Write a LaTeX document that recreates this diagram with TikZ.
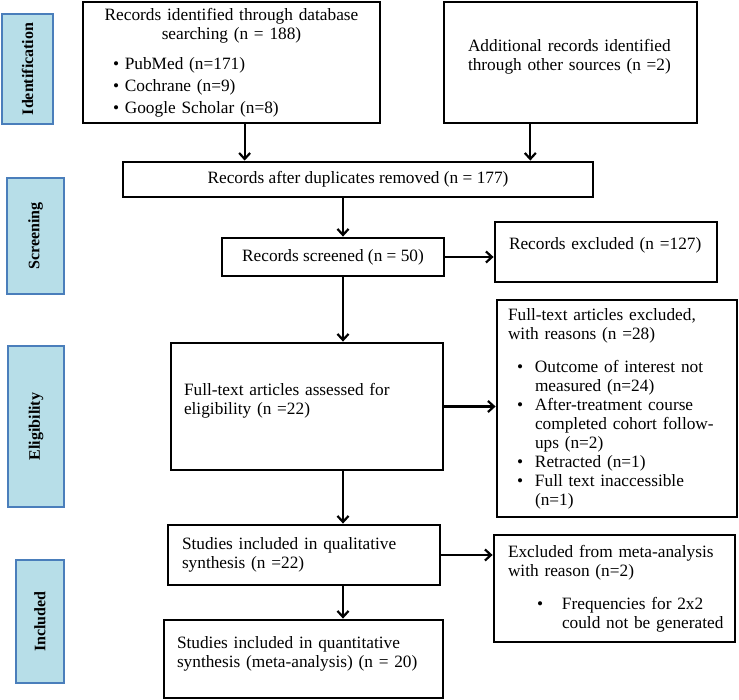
\documentclass[tikz,border=0pt]{standalone}
\usepackage{fontspec}
\setmainfont{Liberation Serif}
\usetikzlibrary{arrows.meta}

\definecolor{phasefill}{HTML}{B7DEE8}
\definecolor{phaseline}{HTML}{4A7EBB}

\newcommand{\bitem}[3]{\par\hangindent=#1\hangafter=0\noindent
  \llap{\makebox[#2][l]{\textbullet}}#3\par}
\newcommand{\pushup}[1]{\par\vspace{#1}\hrule height 0pt}

\tikzset{
  box/.style={draw, line width=2.8pt, inner sep=0pt,
    font=\fontsize{17.3}{19}\selectfont},
  phase/.style={draw=phaseline, fill=phasefill, line width=2.2pt, rotate=90,
    inner sep=0pt, font=\fontsize{16}{18}\selectfont\bfseries},
  arrow/.style={->, line width=2.2pt},
}

\begin{document}
\begin{tikzpicture}[x=1pt, y=-1pt, >={Straight Barb[length=6pt,width=11pt]}]
    \useasboundingbox (0,0) rectangle (739,700);

    \node [phase, minimum width=110pt, minimum height=51pt] (identification) at (27.5,69) {Identification};
    \node [phase, minimum width=116pt, minimum height=57pt] (screening) at (35.5,236) {Screening};
    \node [phase, minimum width=161pt, minimum height=56pt] (eligibility) at (36,426.5) {Eligibility};
    \node [phase, minimum width=123pt, minimum height=48pt] (included) at (40,621.5) {Included};

    \node [box, minimum width=297pt, minimum height=121pt, text width=277pt] (database) at (231.5,62.5)
        {{\centering Records identified through database\\ searching (n = 188)\par}
         \vspace{11pt}
         \hspace*{20pt}\textbullet\ PubMed (n=171)\par\vspace{3pt}
         \hspace*{20pt}\textbullet\ Cochrane (n=9)\par\vspace{3pt}
         \hspace*{20pt}\textbullet\ Google Scholar (n=8)};
    \node [box, minimum width=253pt, minimum height=121pt, text width=205pt, align=left] (other) at (570.5,62.5)
        {Additional records identified\\ through other sources (n =2)\pushup{11pt}};
    \node [box, minimum width=470pt, minimum height=35pt, align=center] (dedup) at (358,179.5)
        {Records after duplicates removed (n = 177)};
    \node [box, minimum width=222pt, minimum height=38pt, align=center] (screened) at (333,257)
        {Records screened (n = 50)};
    \node [box, minimum width=222pt, minimum height=60pt, text width=194pt, align=left] (excluded) at (606,252)
        {Records excluded (n =127)\pushup{14pt}};
    \node [box, minimum width=272pt, minimum height=127pt, text width=246pt, align=left] (assessed) at (307,406.5)
        {Full-text articles assessed for\\ eligibility (n =22)\pushup{12pt}};
    \node [box, minimum width=240pt, minimum height=217pt, text width=218pt, align=left] (ftexcluded) at (617,408.5)
        {Full-text articles excluded,\\ with reasons (n =28)\par\vspace{14pt}
         \bitem{27pt}{18pt}{Outcome of interest not\newline measured (n=24)}
         \bitem{27pt}{18pt}{After-treatment course\newline \mbox{completed cohort follow-}\newline ups (n=2)}
         \bitem{27pt}{18pt}{Retracted (n=1)}
         \bitem{27pt}{18pt}{Full text inaccessible\newline (n=1)}};
    \node [box, minimum width=272pt, minimum height=60pt, text width=244pt, align=left] (qualitative) at (304,555)
        {Studies included in qualitative\\ synthesis (n =22)};
    \node [box, minimum width=241pt, minimum height=107pt, text width=213pt, align=left] (metaexcl) at (614.5,588.5)
        {\mbox{Excluded from meta-analysis}\\ with reason (n=2)\par\vspace{14pt}
         \bitem{54pt}{25pt}{\mbox{Frequencies for 2x2}\newline \mbox{could not be generated}}};
    \node [box, minimum width=279pt, minimum height=78pt, text width=253pt, align=left] (quantitative) at (303.5,659)
        {Studies included in quantitative\\ \mbox{synthesis (meta-analysis) (n = 20)}\pushup{11pt}};

    \coordinate (spine) at (343,0);
    \draw [arrow] (database.-78) -- (database.-78 |- dedup.north);
    \draw [arrow] (other.-123) -- (other.-123 |- dedup.north);
    \draw [arrow] (dedup.south -| spine) -- (screened.north -| spine);
    \draw [arrow] (screened.east) -- (excluded.west |- screened.east);
    \draw [arrow] (screened.south -| spine) -- (assessed.north -| spine);
    \draw [arrow] (assessed.east) -- (ftexcluded.west |- assessed.east);
    \draw [arrow] (assessed.south -| spine) -- (qualitative.north -| spine);
    \draw [arrow] (qualitative.east) -- (metaexcl.west |- qualitative.east);
    \draw [arrow] (qualitative.south -| spine) -- (quantitative.north -| spine);
\end{tikzpicture}
\end{document}
